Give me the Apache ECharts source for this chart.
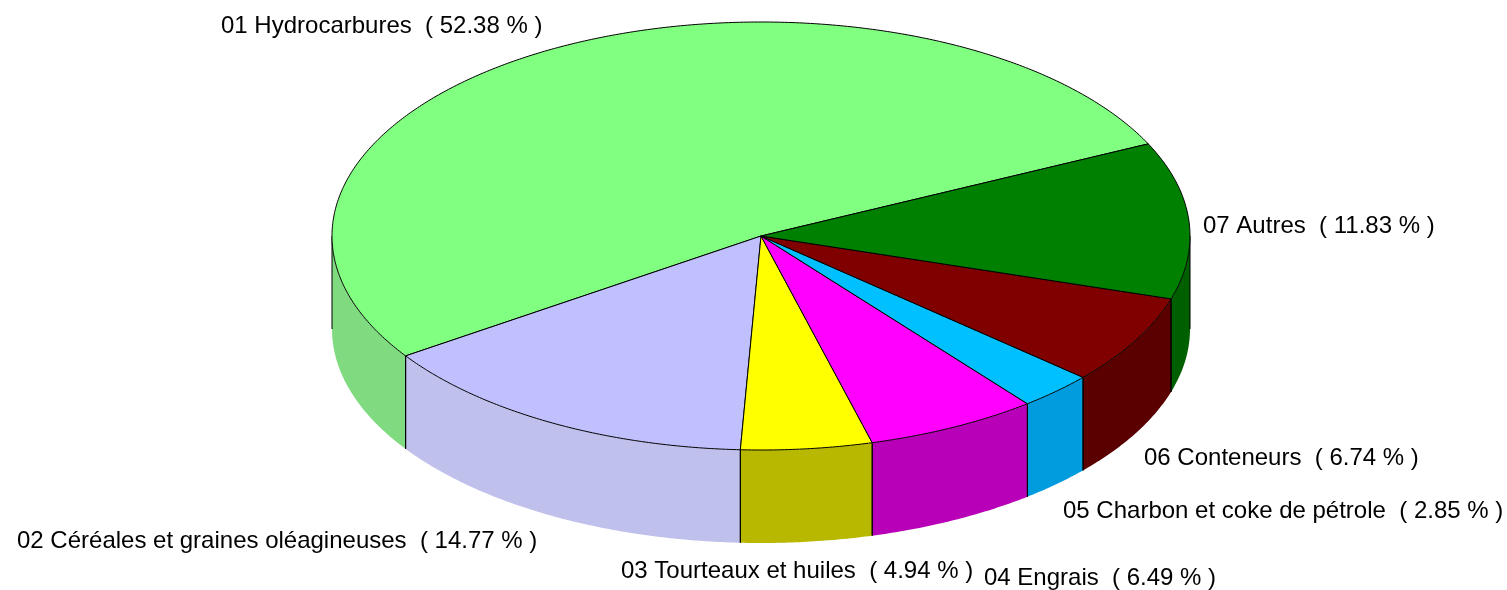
<!DOCTYPE html>
<html>
<head>
<meta charset="utf-8">
<style>html,body{margin:0;padding:0;background:#fff}#c{width:1507px;height:590px}</style>
<script src="https://cdn.jsdelivr.net/npm/echarts@6/dist/echarts.min.js"></script>
</head>
<body>
<div id="c"></div>
<script>
const categories = ['01 Hydrocarbures','02 Céréales et graines oléagineuses','03 Tourteaux et huiles','04 Engrais','05 Charbon et coke de pétrole','06 Conteneurs','07 Autres'];
const shares = [52.38,14.77,4.94,6.49,2.85,6.74,11.83];
const topColors = ['#80ff80','#c0c0ff','#ffff00','#ff00ff','#00c0ff','#800000','#008000'];
const wallColors = ['#80da80','#c0c0ec','#b8b800','#b800b8','#009cde','#5a0000','#006000'];
const labelX = [221,17,621,984,1063,1144,1203];
const labelY = [26,541,571,578,511,458,226];

const CX=761, CY=236, RX=429, RY=214, DEPTH=93, START=25.5;
const total = shares.reduce((a,b)=>a+b,0);
const pt = (deg,dy)=>{const r=deg*Math.PI/180;return [CX+RX*Math.cos(r),CY-RY*Math.sin(r)+(dy||0)];};
function arc(a0,a1,dy){const n=Math.max(2,Math.ceil(Math.abs(a1-a0)*2));const out=[];for(let i=0;i<=n;i++)out.push(pt(a0+(a1-a0)*i/n,dy));return out;}
const begins=[];let acc=START;shares.forEach(v=>{begins.push(acc);acc+=v/total*360;});

function renderItem(params){
  const i=params.dataIndex, a0=begins[i], a1=a0+shares[i]/total*360;
  const kids=[];
  const line={stroke:'#000',lineWidth:1,fill:null};
  const w0=Math.max(a0,180), w1=Math.min(a1,360);
  if(w1>w0){
    const upper=arc(w0,w1,0), lower=arc(w1,w0,DEPTH);
    kids.push({type:'polygon',shape:{points:upper.concat(lower)},style:{fill:wallColors[i],stroke:null},z2:1});
    kids.push({type:'polyline',shape:{points:[pt(w0,0),pt(w0,DEPTH)]},style:line,z2:2});
    kids.push({type:'polyline',shape:{points:[pt(w1,0),pt(w1,DEPTH)]},style:line,z2:2});
  }
  kids.push({type:'polygon',shape:{points:[[CX,CY]].concat(arc(a0,a1,0))},style:{fill:topColors[i],stroke:'#000',lineWidth:1,lineJoin:'round'},z2:3});
  kids.push({type:'text',x:labelX[i],y:labelY[i],style:{text:categories[i]+'  ( '+shares[i].toFixed(2)+' % )',fill:'#000',font:'24px "Liberation Sans", Arial, sans-serif',textAlign:'left',textVerticalAlign:'middle'},z2:4});
  return {type:'group',children:kids};
}
const chart=echarts.init(document.getElementById('c'),null,{renderer:'canvas'});
chart.setOption({
  animation:false,
  backgroundColor:'#fff',
  tooltip:{show:false},
  series:[{type:'custom',coordinateSystem:'none',renderItem:renderItem,data:shares.map((v,i)=>({name:categories[i],value:v})),silent:true}]
});
</script>
</body>
</html>
